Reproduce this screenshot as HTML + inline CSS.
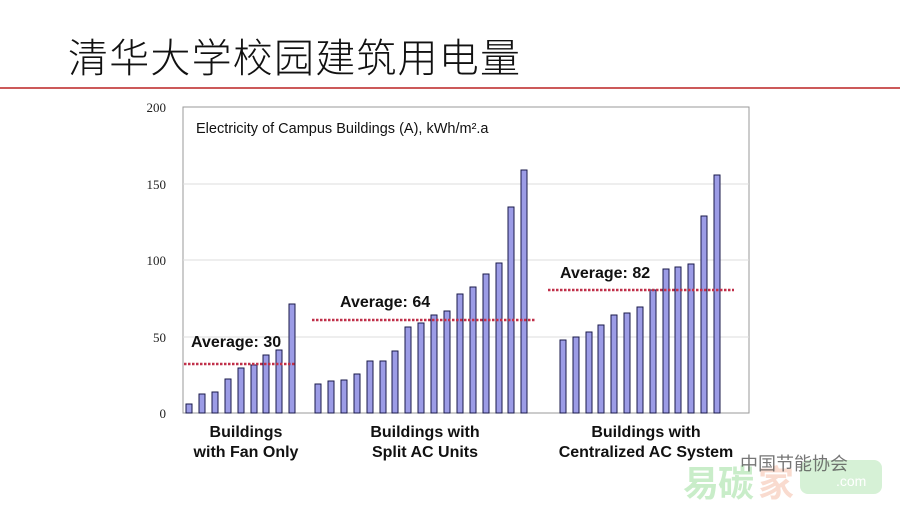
<!DOCTYPE html>
<html><head><meta charset="utf-8"><style>
body{margin:0;width:900px;height:506px;background:#fff;overflow:hidden}
</style></head><body>
<svg width="900" height="506" xmlns="http://www.w3.org/2000/svg" font-family="Liberation Sans, Noto Sans CJK SC, sans-serif">
<text x="68" y="72" font-size="40" font-family="Noto Sans CJK SC, sans-serif" font-weight="300" fill="#111" textLength="452">清华大学校园建筑用电量</text>
<line x1="0" y1="88" x2="900" y2="88" stroke="#b22" stroke-width="1.5"/>
<rect x="183" y="107" width="566" height="306" fill="#fff" stroke="#999" stroke-width="1"/>
<g stroke="#ddd" stroke-width="1">
<line x1="183" y1="184" x2="749" y2="184"/><line x1="183" y1="260" x2="749" y2="260"/><line x1="183" y1="337" x2="749" y2="337"/>
</g>
<g font-family="Liberation Serif, serif" font-size="13" fill="#222" text-anchor="end">
<text x="166" y="112">200</text><text x="166" y="189">150</text><text x="166" y="265">100</text><text x="166" y="342">50</text><text x="166" y="418">0</text>
</g>
<text x="196" y="133" font-size="14.5" fill="#111">Electricity of Campus Buildings (A),  kWh/m²<tspan>.a</tspan></text>
<g fill="#9c9ce6" stroke="#1a1a4a" stroke-width="1">
<rect x="186" y="404" width="6" height="9"/><rect x="199" y="394" width="6" height="19"/><rect x="212" y="392" width="6" height="21"/><rect x="225" y="379" width="6" height="34"/><rect x="238" y="368" width="6" height="45"/><rect x="251" y="365" width="6" height="48"/><rect x="263" y="355" width="6" height="58"/><rect x="276" y="350" width="6" height="63"/><rect x="289" y="304" width="6" height="109"/>
<rect x="315" y="384" width="6" height="29"/><rect x="328" y="381" width="6" height="32"/><rect x="341" y="380" width="6" height="33"/><rect x="354" y="374" width="6" height="39"/><rect x="367" y="361" width="6" height="52"/><rect x="380" y="361" width="6" height="52"/><rect x="392" y="351" width="6" height="62"/><rect x="405" y="327" width="6" height="86"/><rect x="418" y="323" width="6" height="90"/><rect x="431" y="315" width="6" height="98"/><rect x="444" y="311" width="6" height="102"/><rect x="457" y="294" width="6" height="119"/><rect x="470" y="287" width="6" height="126"/><rect x="483" y="274" width="6" height="139"/><rect x="496" y="263" width="6" height="150"/><rect x="508" y="207" width="6" height="206"/><rect x="521" y="170" width="6" height="243"/>
<rect x="560" y="340" width="6" height="73"/><rect x="573" y="337" width="6" height="76"/><rect x="586" y="332" width="6" height="81"/><rect x="598" y="325" width="6" height="88"/><rect x="611" y="315" width="6" height="98"/><rect x="624" y="313" width="6" height="100"/><rect x="637" y="307" width="6" height="106"/><rect x="650" y="290" width="6" height="123"/><rect x="663" y="269" width="6" height="144"/><rect x="675" y="267" width="6" height="146"/><rect x="688" y="264" width="6" height="149"/><rect x="701" y="216" width="6" height="197"/><rect x="714" y="175" width="6" height="238"/>
</g>
<g stroke="#c0304a" stroke-width="2.5" stroke-dasharray="2.5,1.5">
<line x1="184" y1="364" x2="296" y2="364"/><line x1="312" y1="320" x2="535" y2="320"/><line x1="548" y1="290" x2="734" y2="290"/>
</g>
<g font-size="16" font-weight="bold" fill="#111">
<text x="191" y="347">Average: 30</text><text x="340" y="307">Average: 64</text><text x="560" y="278">Average: 82</text>
</g>
<g font-size="16" font-weight="bold" fill="#111" text-anchor="middle">
<text x="246" y="437">Buildings</text><text x="246" y="457">with Fan Only</text>
<text x="425" y="437">Buildings with</text><text x="425" y="457">Split AC Units</text>
<text x="646" y="437">Buildings with</text><text x="646" y="457">Centralized AC System</text>
</g>
<g font-size="36" font-weight="bold" font-family="Noto Sans CJK SC, sans-serif" opacity="0.35">
<text x="683" y="496" fill="#6c6">易</text><text x="718" y="496" fill="#6c6">碳</text><text x="758" y="496" fill="#e97">家</text>
</g>
<rect x="800" y="460" width="82" height="34" rx="8" fill="#9d9" opacity="0.4"/>
<text x="740" y="470" font-size="18" font-family="Noto Sans CJK SC, sans-serif" fill="#555" opacity="0.8">中国节能协会</text>
<text x="836" y="486" font-size="14" fill="#fff">.com</text>
</svg>
</body></html>
